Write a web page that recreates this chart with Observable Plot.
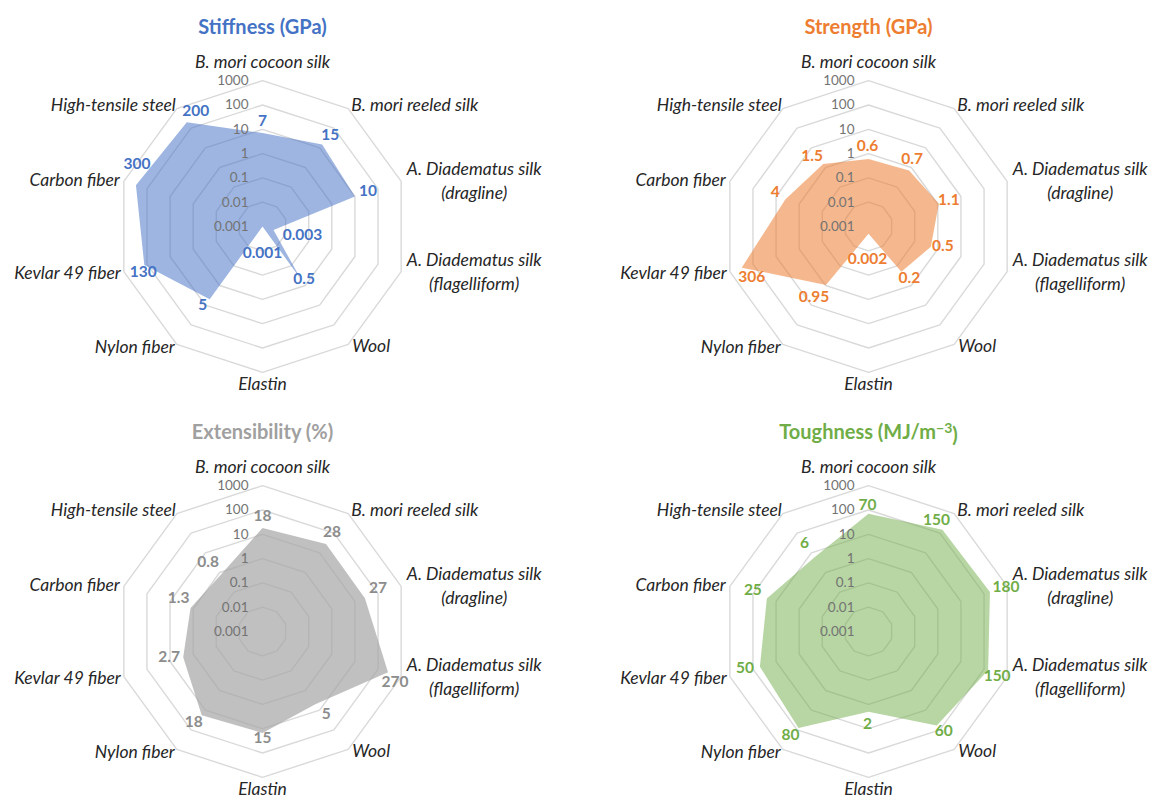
<!DOCTYPE html>
<html>
<head>
<meta charset="utf-8">
<script src="https://cdn.jsdelivr.net/npm/d3@7"></script>
<script src="https://cdn.jsdelivr.net/npm/@observablehq/plot@0.6"></script>
<style>
  html, body { margin: 0; padding: 0; background: #fff; overflow: hidden; }
  #board { position: relative; width: 1150px; height: 798px; overflow: hidden; }
  .panel { position: absolute; width: 575px; height: 400px; }
  .panel svg { max-width: none !important; width: 575px !important; height: 400px !important; }
</style>
</head>
<body>
<div id="board"></div>
<script>
// ---- data -----------------------------------------------------------------
const materials = [
  "B. mori cocoon silk",
  "B. mori reeled silk",
  "A. Diadematus silk\n(dragline)",
  "A. Diadematus silk\n(flagelliform)",
  "Wool",
  "Elastin",
  "Nylon fiber",
  "Kevlar 49 fiber",
  "Carbon fiber",
  "High-tensile steel"
];
const tickValues = [0.001, 0.01, 0.1, 1, 10, 100, 1000];
const tickLabels = ["0.001", "0.01", "0.1", "1", "10", "100", "1000"];

const stiffness     = [7, 15, 10, 0.003, 0.5, 0.001, 5, 130, 300, 200];
const strength      = [0.6, 0.7, 1.1, 0.5, 0.2, 0.002, 0.95, 306, 4, 1.5];
const extensibility = [18, 28, 27, 270, 5, 15, 18, 2.7, 1.3, 0.8];
const toughness     = [70, 150, 180, 150, 60, 2, 80, 50, 25, 6];

const stiffnessLabels     = ["7", "15", "10", "0.003", "0.5", "0.001", "5", "130", "300", "200"];
const strengthLabels      = ["0.6", "0.7", "1.1", "0.5", "0.2", "0.002", "0.95", "306", "4", "1.5"];
const extensibilityLabels = ["18", "28", "27", "270", "5", "15", "18", "2.7", "1.3", "0.8"];
const toughnessLabels     = ["70", "150", "180", "150", "60", "2", "80", "50", "25", "6"];

// ---- label placement (pixel nudges away from each point) -------------------
const stiffnessShift     = [[0,-12],[8,-9],[13,-5],[29,5],[3,-1],[0,27],[-7,6],[-1,7],[1,-21],[9,-11]];
const strengthShift      = [[-1,-13],[3,-12],[10,-4],[12,-1],[8,6],[-1,25],[-12,12],[10,9],[-10,-7],[-11,-8]];
const extensibilityShift = [[0,-12],[6,-12],[13,-10],[7,10],[11,10],[0,5],[-8,7],[-14,0],[-12,-10],[-13,-12]];
const toughnessShift     = [[-1,-9],[-6,-10],[16,-5],[9,6],[7,6],[-1,12],[-8,7],[-15,1],[-14,-8],[-10,-14]];

// category label anchoring around the outer ring: [anchor, dx px, dy px]
const categoryPlacement = [
  ["middle", 0, -20], ["start", 3, -5], ["middle", 73, -2], ["middle", 73, -1], ["start", 4, 0],
  ["middle", 0, 10], ["end", -2, 1], ["end", -3, 0], ["end", -4, -3], ["end", -1, -5]
];

const charts = [
  {title: "Stiffness (GPa)", sup: null, values: stiffness, labels: stiffnessLabels, shift: stiffnessShift,
   color: "#4472C4", textColor: "#4472C4", titleColor: "#4472C4", fillOpacity: 0.52, left: 0, top: 0},
  {title: "Strength (GPa)", sup: null, values: strength, labels: strengthLabels, shift: strengthShift,
   color: "#ED7D31", textColor: "#ED7D31", titleColor: "#ED7D31", fillOpacity: 0.55, left: 606, top: 0},
  {title: "Extensibility (%)", sup: null, values: extensibility, labels: extensibilityLabels, shift: extensibilityShift,
   color: "#A5A5A5", textColor: "#8C8C8C", titleColor: "#A0A0A0", fillOpacity: 0.7, left: 0, top: 405},
  {title: "Toughness (MJ/m", sup: "\u22123", tail: ")", values: toughness, labels: toughnessLabels, shift: toughnessShift,
   color: "#70AD47", textColor: "#70AD47", titleColor: "#70AD47", fillOpacity: 0.5, left: 606, top: 405}
];

// ---- geometry ---------------------------------------------------------------
const W = 575, H = 400;     // panel size
const CX = 262, CY = 226;   // radar centre inside a panel
const U = 24.3;             // pixels per decade
const radius = d3.scaleLog().domain([0.001, 1000]).range([0, 6]);
const nAxes = materials.length;
const angle = i => (i * 2 * Math.PI) / nAxes;
const px = (r, i) => r * Math.sin(angle(i));
const py = (r, i) => r * Math.cos(angle(i));
const outer = radius(1000);

const FONT = "Lato, Carlito, 'Open Sans', sans-serif";

// grid decagons, one per decade above the centre value
const gridRings = tickValues.slice(1).flatMap(v =>
  materials.map((m, i) => ({ring: v, x: px(radius(v), i), y: py(radius(v), i)}))
);

const categories = materials.map((m, i) => ({
  name: m,
  anchor: categoryPlacement[i][0],
  x: px(outer, i) + categoryPlacement[i][1] / U,
  y: py(outer, i) - categoryPlacement[i][2] / U
}));

function radar(chart) {
  const points = chart.values.map((v, i) => ({
    material: materials[i], value: v,
    x: px(radius(v), i), y: py(radius(v), i)
  }));
  const valueLabels = points.map((p, i) => ({
    text: chart.labels[i],
    x: p.x + chart.shift[i][0] / U,
    y: p.y - chart.shift[i][1] / U
  }));
  const catMark = anchor => Plot.text(categories.filter(d => d.anchor === anchor), {
    x: "x", y: "y", text: "name", textAnchor: anchor, lineAnchor: "middle",
    lineHeight: 1.33, fontSize: 17.5, fontStyle: "italic", fill: "#262626"
  });

  const plot = Plot.plot({
    width: W, height: H,
    margin: 0,
    x: {type: "linear", domain: [-CX / U, (W - CX) / U], axis: null},
    y: {type: "linear", domain: [-(H - CY) / U, CY / U], axis: null},
    style: {fontFamily: FONT, background: "transparent", overflow: "visible"},
    marks: [
      Plot.line(gridRings, {x: "x", y: "y", z: "ring", curve: "linear-closed",
        stroke: "#d9d9d9", strokeWidth: 1.4}),
      Plot.line(points, {x: "x", y: "y", curve: "linear-closed",
        fill: chart.color, fillOpacity: chart.fillOpacity, stroke: "none"}),
      Plot.text(tickValues, {x: () => 0, y: d => radius(d), text: (d, i) => tickLabels[i],
        textAnchor: "end", dx: -14, fontSize: 13.5, fill: "#737373"}),
      catMark("middle"), catMark("start"), catMark("end"),
      Plot.text(valueLabels, {x: "x", y: "y", text: "text", fontSize: 15.5,
        fontWeight: "bold", fill: chart.textColor}),
      Plot.text([chart.title], {x: () => 0, frameAnchor: "top", dy: 27, lineAnchor: "middle",
        fontSize: 20, fontWeight: "bold", fill: chart.titleColor, className: "panel-title"})
    ]
  });

  // unit with a raised exponent
  if (chart.sup) {
    const t = d3.select(plot).select(".panel-title text");
    t.text(null);
    t.append("tspan").text(chart.title);
    t.append("tspan").attr("dy", "-0.45em").attr("font-size", "70%").text(chart.sup);
    t.append("tspan").attr("dy", "0.45em").text(chart.tail);
  }
  return plot;
}

const board = document.getElementById("board");
for (const chart of charts) {
  const holder = document.createElement("div");
  holder.className = "panel";
  holder.style.left = chart.left + "px";
  holder.style.top = chart.top + "px";
  holder.appendChild(radar(chart));
  board.appendChild(holder);
}
</script>
</body>
</html>
